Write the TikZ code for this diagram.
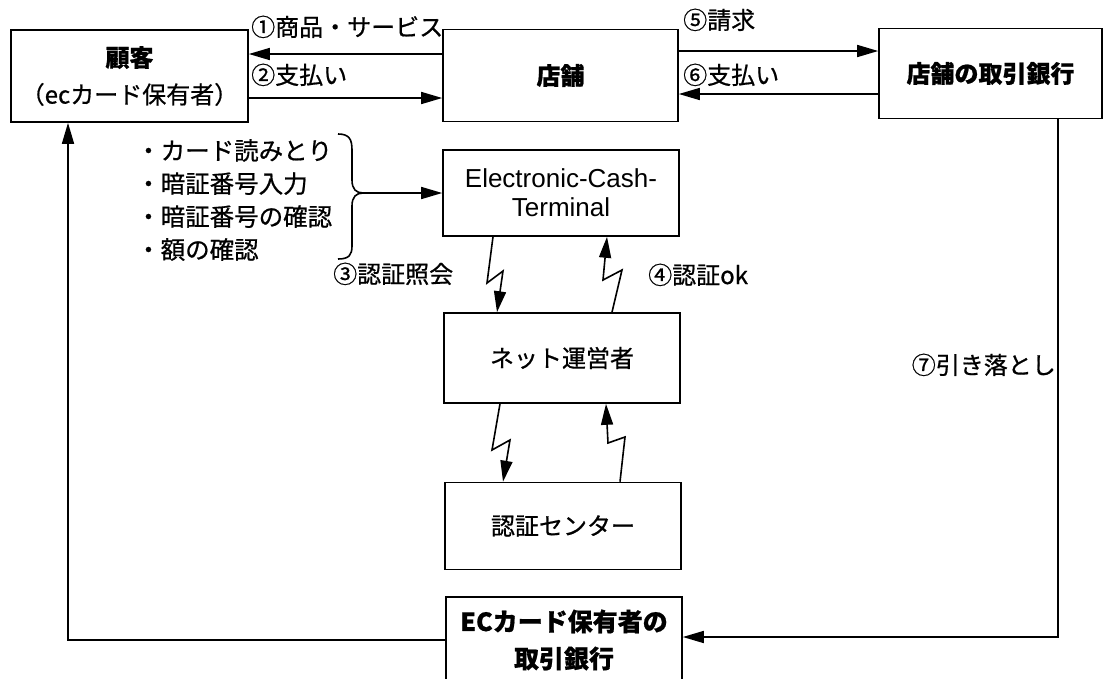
\documentclass[tikz,border=0pt]{standalone}
\usepackage{fontspec}
\setmainfont{Noto Sans CJK JP}[RawFeature={embolden=0.7}]
\newfontfamily\latinf{Liberation Sans}
\usetikzlibrary{arrows.meta,calc}
\begin{document}
\begin{tikzpicture}[x=1pt,y=-1pt,
  box/.style={draw, line width=1.6pt, minimum width=236pt, minimum height=88pt,
    align=center, inner sep=0pt, font=\fontsize{24}{34}\selectfont},
  arr/.style={line width=1.6pt, -{Triangle[length=21pt,width=12pt]}},
  ln/.style={line width=1.6pt},
  lbl/.style={inner sep=0pt, font=\fontsize{24}{33}\selectfont}]
\useasboundingbox (0,0) rectangle (1112,678);
\clip (0,0) rectangle (1112,678);

% boxes
\node[box, minimum width=237pt, minimum height=92pt, font=\fontsize{24}{37}\selectfont] (cust) at (129.5,76) {{\bfseries 顧客}\\（ecカード保有者）};
\node[box, minimum width=235pt, minimum height=92pt] (shop) at (560.5,75.5) {\bfseries 店舗};
\node[box, minimum width=223pt, minimum height=90pt] (sbank) at (990.5,73.5) {\bfseries 店舗の取引銀行};
\node[box, minimum width=236pt, minimum height=86pt, font=\latinf\fontsize{26}{29}\selectfont] (ect) at (561,193) {Electronic-Cash-\\Terminal};
\node[box, minimum width=236pt, minimum height=90pt] (net) at (562,358) {ネット運営者};
\node[box, minimum width=236pt, minimum height=87pt] (auth) at (563,526) {認証センター};
\node[box, minimum width=236pt, minimum height=86pt, font=\fontsize{25}{37}\selectfont] (ecb) at (564,640) {\bfseries ECカード保有者の\\\bfseries 取引銀行};

% horizontal arrows at top
\coordinate (y1) at (0,54);
\coordinate (y2) at (0,98);
\coordinate (y5) at (0,51);
\coordinate (y6) at (0,94);
\draw[arr] (shop.west |- y1) -- (cust.east |- y1);
\draw[arr] (cust.east |- y2) -- (shop.west |- y2);
\draw[arr] (shop.east |- y5) -- (sbank.west |- y5);
\draw[arr] (sbank.west |- y6) -- (shop.east |- y6);
\node[lbl, anchor=base west] (l1) at (251,36) {①商品・サービス};
\node[lbl, anchor=base west] (l2) at (251,84) {②支払い};
\node[lbl, anchor=base west] (l5) at (683,29) {⑤請求};
\node[lbl, anchor=base west] (l6) at (683,84) {⑥支払い};

% checklist and brace
\node[lbl, anchor=north west, align=left, font=\fontsize{24.5}{33}\selectfont] (list) at (136,139) {・カード読みとり\\・暗証番号入力\\・暗証番号の確認\\・額の確認};
\coordinate (bt) at (363,193);
\draw[ln] (338,134) .. controls (349,134) and (352,139) .. (352,150) -- (352,180)
  .. controls (352,189) and (356,193) .. (bt)
  .. controls (356,193) and (352,197) .. (352,206) -- (352,246)
  .. controls (352,255) and (349,259) .. (338,259);
\draw[arr] (bt) -- (ect.west |- bt);

% lightning arrows
\draw[arr] ($(ect.south)+(-68,0)$) -- (487,283) -- (503,271) -- ($(net.north)+(-65,0)$);
\draw[arr] ($(net.north)+(50,0)$) -- (622,270) -- (603,280) -- ($(ect.south)+(46,0)$);
\draw[arr] ($(net.south)+(-62,0)$) -- (492,450) -- (510,440) -- ($(auth.north)+(-60,0)$);
\draw[arr] ($(auth.north)+(57,0)$) -- (625,437) -- (608,443) -- ($(net.south)+(44,0)$);
\node[lbl, anchor=base west] (l3) at (333,283) {③認証照会};
\node[lbl, anchor=base west] (l4) at (648,284) {④認証ok};

% long connectors
\coordinate (lc) at (68,640);
\draw[arr] (ecb.west) -- (ecb.west -| lc) -- (lc |- cust.south);
\coordinate (rc) at (1058,637);
\draw[arr] (sbank.south -| rc) -- (rc) -- (rc -| ecb.east);
\node[lbl, anchor=base east] (l7) at (1056,374) {⑦引き落とし};
\end{tikzpicture}
\end{document}
